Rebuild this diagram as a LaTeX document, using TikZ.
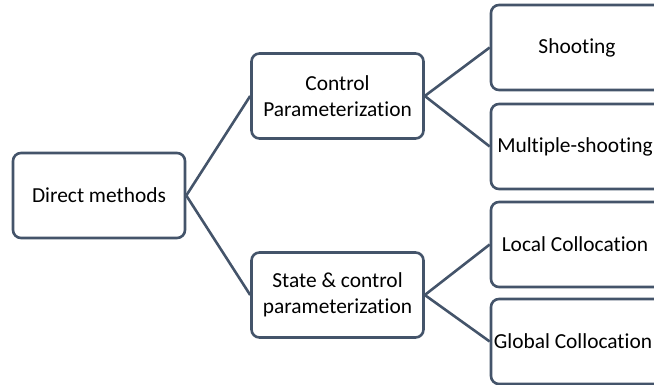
\documentclass[tikz,border=0pt]{standalone}
\usepackage{fontspec}
\setmainfont[Ligatures=NoCommon]{Carlito}
\usepackage{xcolor}
\definecolor{slate}{HTML}{44546A}
\usetikzlibrary{positioning}

\begin{document}
\begin{tikzpicture}[
  x=1pt, y=-1pt,
  font=\fontsize{21.4}{25.5}\selectfont,
  box/.style={draw=slate, line width=2.6pt, rounded corners=8pt, fill=white,
              align=center, minimum width=172pt, minimum height=85pt, inner sep=2pt},
  link/.style={draw=slate, line width=2.6pt},
]
\useasboundingbox (0,0) rectangle (654,385);

\node[box] (direct) at (99, 195.5) {Direct methods};
\node[box] (ctrl) at (337.5, 96) {Control\\Parameterization};
\node[box] (state) at (337.5, 295) {State \& control\\parameterization};

\node[box] (shoot) at (577, 47.5) {Shooting};
\node[box] (multi) at (577, 146.5) {Multiple-shooting\hspace*{4pt}};
\node[box] (local) at (577, 244.5) {Local Collocation\hspace*{4pt}};
\node[box] (global) at (577, 341.5) {Global Collocation\hspace*{8pt}};

\draw[link] (direct.east) -- (ctrl.west);
\draw[link] (direct.east) -- (state.west);
\draw[link] (ctrl.east) -- (shoot.west);
\draw[link] (ctrl.east) -- (multi.west);
\draw[link] (state.east) -- (local.west);
\draw[link] (state.east) -- (global.west);
\end{tikzpicture}
\end{document}
